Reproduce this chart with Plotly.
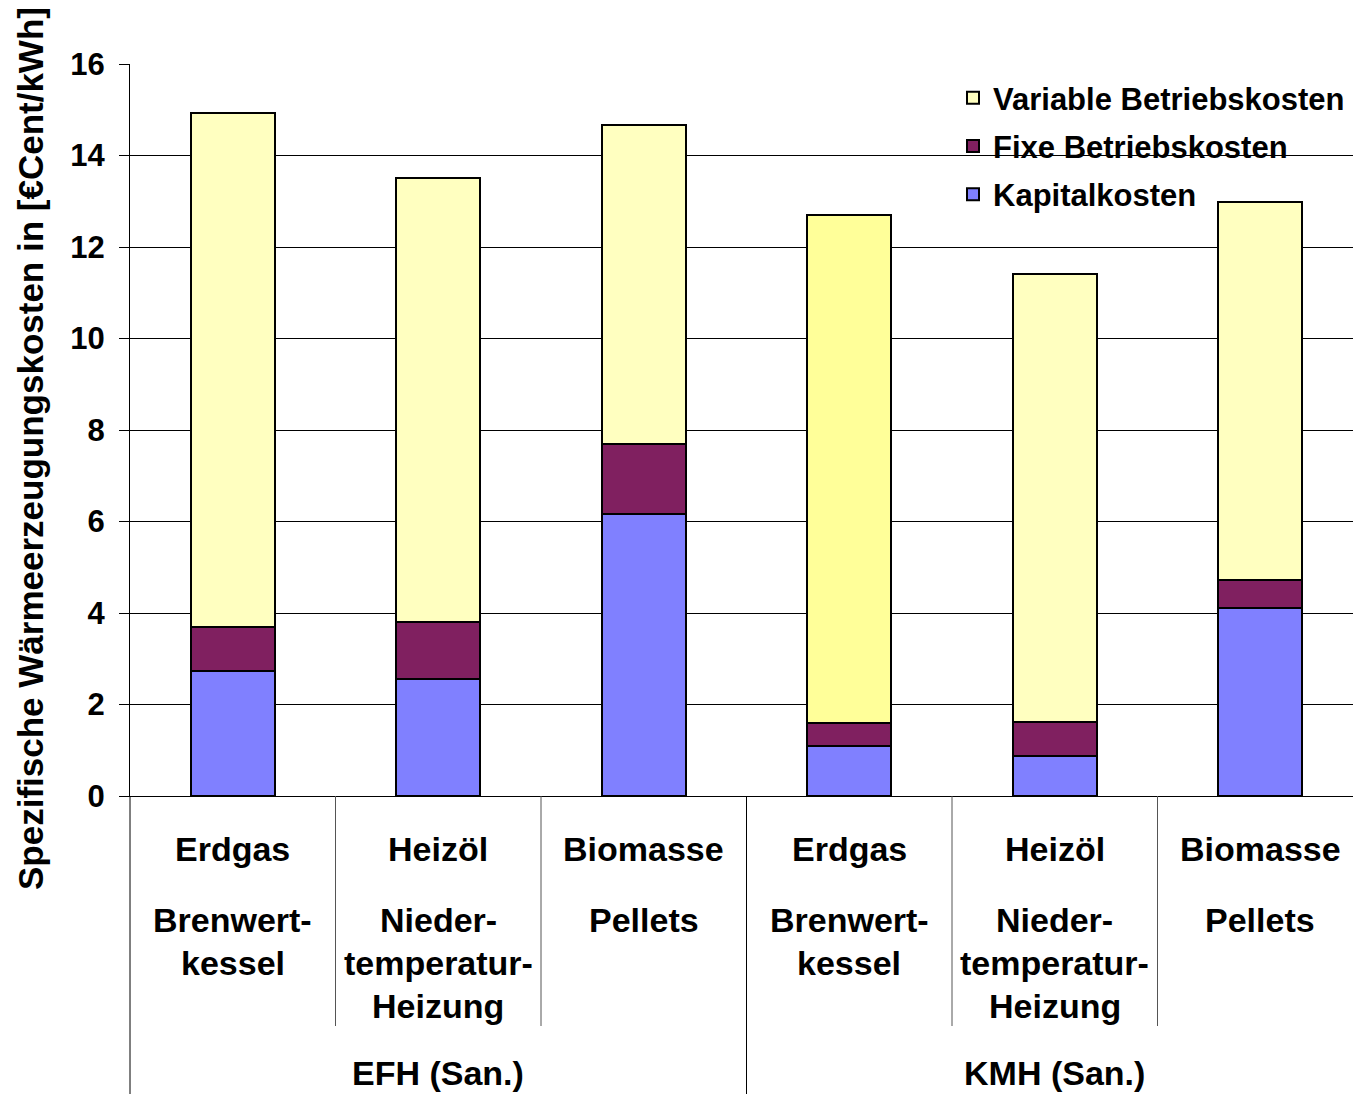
import plotly.graph_objects as go

# --- data -----------------------------------------------------------------
fuels = ["Erdgas", "Heizöl", "Biomasse", "Erdgas", "Heizöl", "Biomasse"]
technologies = [
    "Brenwert-\nkessel",
    "Nieder-\ntemperatur-\nHeizung",
    "Pellets",
    "Brenwert-\nkessel",
    "Nieder-\ntemperatur-\nHeizung",
    "Pellets",
]
groups = ["EFH (San.)", "KMH (San.)"]
group_size = 3

kapitalkosten = [2.74, 2.56, 6.16, 1.09, 0.87, 4.11]
fixe_betriebskosten = [0.96, 1.24, 1.53, 0.51, 0.75, 0.61]
variable_betriebskosten = [11.22, 9.70, 6.98, 11.10, 9.78, 8.27]

y_ticks = [0, 2, 4, 6, 8, 10, 12, 14, 16]
y_title = "Spezifische Wärmeerzeugungskosten in [€Cent/kWh]"

# --- styling --------------------------------------------------------------
FONT = "Liberation Sans, Arial, sans-serif"
W, H = 1353, 1094
M_L, M_R, M_T, M_B = 130, 0, 64, 298
plot_w = W - M_L - M_R
plot_h = H - M_T - M_B
cat_px = 205.5  # pixel width of one category slot


def py(px_y):
    """Convert a pixel row of the page to paper y coordinate."""
    return (H - M_B - px_y) / plot_h


def px_x(px):
    """Convert a pixel column of the page to paper x coordinate."""
    return (px - M_L) / plot_w


x = list(range(len(fuels)))
bar_line = dict(color="black", width=2)

fig = go.Figure()
fig.add_trace(go.Bar(
    x=x, y=kapitalkosten, name="Kapitalkosten", width=0.41,
    marker=dict(color="#8080FF", line=bar_line), legendgroup="k",
    legendrank=3,
))
fig.add_trace(go.Bar(
    x=x, y=fixe_betriebskosten, name="Fixe Betriebskosten", width=0.41,
    marker=dict(color="#802060", line=bar_line), legendgroup="f",
    legendrank=2,
))
var_colors = ["#FFFFC0"] * len(x)
var_colors[3] = "#FFFF99"
fig.add_trace(go.Bar(
    x=x, y=variable_betriebskosten, name="Variable Betriebskosten", width=0.41,
    marker=dict(color=var_colors, line=bar_line), legendgroup="v",
    legendrank=1,
))

x_max = -0.5 + plot_w / cat_px

annotations = []
shapes = []
label_font = dict(family=FONT, size=34, color="black", weight="bold")

# category labels below the axis
for i, (fuel, tech) in enumerate(zip(fuels, technologies)):
    annotations.append(dict(
        x=i, y=py(849), xref="x", yref="paper", text=fuel, showarrow=False,
        xanchor="center", yanchor="middle", font=label_font,
    ))
    for j, line in enumerate(tech.split("\n")):
        annotations.append(dict(
            x=i, y=py(920 + 43 * j), xref="x", yref="paper", text=line,
            showarrow=False, xanchor="center", yanchor="middle",
            font=label_font,
        ))

# group labels
for g, name in enumerate(groups):
    center = g * group_size + (group_size - 1) / 2
    annotations.append(dict(
        x=center, y=py(1073), xref="x", yref="paper", text=name,
        showarrow=False, xanchor="center", yanchor="middle", font=label_font,
    ))

# divider lines between categories and groups
for i in range(1, len(fuels)):
    xpos = i - 0.5
    is_group = i % group_size == 0
    shapes.append(dict(
        type="line", xref="x", yref="paper", x0=xpos, x1=xpos,
        y0=0, y1=py(1094) - 0.01 if is_group else py(1026),
        line=dict(color="black" if is_group else "#555555", width=1),
    ))
# left frame line continues below the axis
shapes.append(dict(
    type="line", xref="paper", yref="paper", x0=0, x1=0,
    y0=0, y1=py(1094) - 0.01, line=dict(color="black", width=1),
))

# y-axis title
annotations.append(dict(
    x=px_x(30), y=py(449), xref="paper", yref="paper", text=y_title,
    textangle=-90, showarrow=False, xanchor="center", yanchor="middle",
    font=dict(family=FONT, size=35, color="black", weight="bold"),
))

fig.update_layout(
    width=W, height=H,
    margin=dict(l=M_L, r=M_R, t=M_T, b=M_B, autoexpand=False),
    barmode="stack",
    paper_bgcolor="white", plot_bgcolor="white",
    font=dict(family=FONT, color="black", weight="bold"),
    showlegend=True,
    legend=dict(
        x=px_x(953), y=py(71), xanchor="left", yanchor="top",
        traceorder="grouped", tracegroupgap=5,
        font=dict(family=FONT, size=31, color="black", weight="bold"),
        bgcolor="rgba(0,0,0,0)", itemwidth=30,
    ),
    xaxis=dict(
        range=[-0.5, x_max], showticklabels=False, showgrid=False,
        zeroline=False, showline=True, linecolor="black", linewidth=1,
        ticks="",
    ),
    yaxis=dict(
        range=[0, 16], tickvals=y_ticks, ticks="outside", ticklen=10,
        tickcolor="black", showgrid=True, gridcolor="black", gridwidth=1,
        showline=True, linecolor="black", linewidth=1, zeroline=False,
        tickfont=dict(family=FONT, size=31, color="black", weight="bold"),
        ticklabelstandoff=8,
    ),
    annotations=annotations,
    shapes=shapes,
)

fig.write_html("out.html")
